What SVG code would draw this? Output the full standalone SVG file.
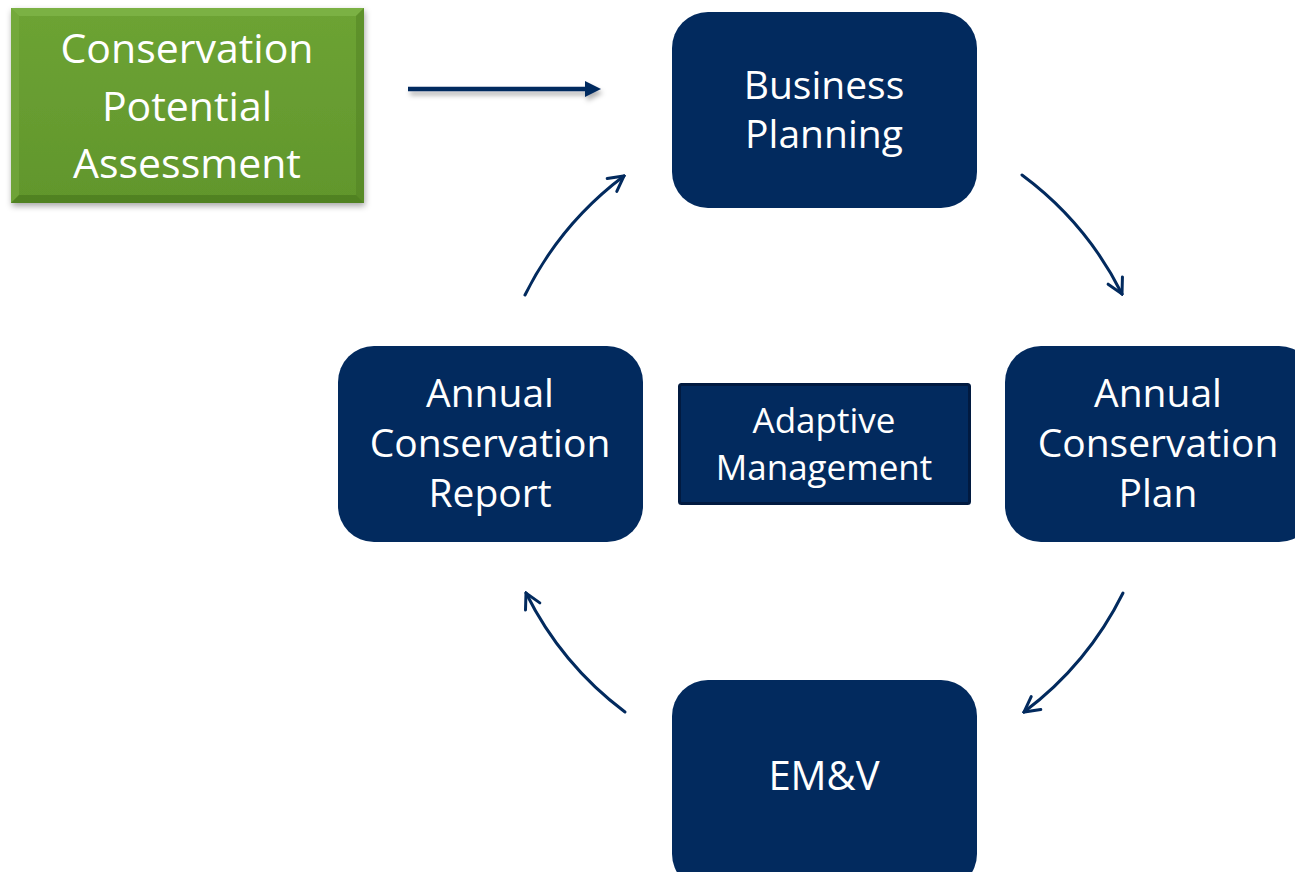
<svg xmlns="http://www.w3.org/2000/svg" width="1295" height="872" viewBox="0 0 1295 872">
<defs>
<style>
.node{fill:#022a5e;}
.t{font-family:"Open Sans","Noto Sans",sans-serif;fill:#ffffff;text-anchor:middle;}
.big{font-size:39px;}
.grn{font-size:41px;}
.mid{font-size:35px;}
.arc{fill:none;stroke:#022a5e;stroke-width:3;stroke-linecap:round;}
</style>
<linearGradient id="gg" x1="0" y1="0" x2="0" y2="1">
<stop offset="0" stop-color="#6da334"/>
<stop offset="1" stop-color="#61962c"/>
</linearGradient>
<filter id="sh" x="-10%" y="-10%" width="125%" height="130%">
<feDropShadow dx="1" dy="3" stdDeviation="3" flood-color="#000" flood-opacity="0.35"/>
</filter>
<filter id="sh2" x="-10%" y="-100%" width="120%" height="300%">
<feDropShadow dx="2" dy="4" stdDeviation="2.5" flood-color="#000" flood-opacity="0.3"/>
</filter>
<marker id="ah" viewBox="0 0 20 20" refX="18" refY="10" markerWidth="20" markerHeight="20" markerUnits="userSpaceOnUse" orient="auto">
<polyline points="3,2 18,10 3,18" fill="none" stroke="#022a5e" stroke-width="3" stroke-linecap="round" stroke-linejoin="miter"/>
</marker>
</defs>

<g id="cpa">
<rect x="11" y="8" width="353" height="195" fill="url(#gg)" filter="url(#sh)"/>
<polygon points="11,8 364,8 356,16 19,16" fill="#86bb4e" opacity="0.6"/>
<polygon points="11,8 19,16 19,195 11,203" fill="#7bb043" opacity="0.5"/>
<polygon points="364,8 364,203 356,195 356,16" fill="#4f7f22" opacity="0.5"/>
<polygon points="11,203 19,195 356,195 364,203" fill="#46741c" opacity="0.6"/>
<text class="t grn" x="187" y="63">Conservation</text>
<text class="t grn" x="187" y="121">Potential</text>
<text class="t grn" x="187" y="178">Assessment</text>
</g>

<g id="business-planning">
<rect class="node" x="672" y="12" width="305" height="196" rx="36"/>
<text class="t big" x="824" y="99">Business</text>
<text class="t big" x="824" y="148">Planning</text>
</g>

<g id="annual-conservation-plan">
<rect class="node" x="1005" y="346" width="310" height="196" rx="36"/>
<text class="t big" x="1158" y="407">Annual</text>
<text class="t big" x="1158" y="457">Conservation</text>
<text class="t big" x="1158" y="507">Plan</text>
</g>

<g id="emv">
<rect class="node" x="672" y="680" width="305" height="210" rx="36"/>
<text class="t big" x="824" y="790" font-size="40" style="font-size:40px">EM&amp;V</text>
</g>

<g id="annual-conservation-report">
<rect class="node" x="338" y="346" width="305" height="196" rx="36"/>
<text class="t big" x="490" y="407">Annual</text>
<text class="t big" x="490" y="457">Conservation</text>
<text class="t big" x="490" y="507">Report</text>
</g>

<g id="adaptive-management">
<rect x="679.5" y="384.5" width="290" height="119" fill="#022a5e" stroke="#011a40" stroke-width="3" rx="2"/>
<text class="t mid" x="824" y="433">Adaptive</text>
<text class="t mid" x="824" y="480">Management</text>
</g>

<g id="connectors">
<g filter="url(#sh2)">
<line x1="408" y1="89" x2="588" y2="89" stroke="#022a5e" stroke-width="4.5"/>
<polygon points="585,81 601,89 585,97" fill="#022a5e"/>
</g>
<path class="arc" d="M1022,175 A334,334 0 0 1 1122,294" marker-end="url(#ah)"/>
<path class="arc" d="M1123,593 A334,334 0 0 1 1024,712" marker-end="url(#ah)"/>
<path class="arc" d="M625,712 A334,334 0 0 1 526,593" marker-end="url(#ah)"/>
<path class="arc" d="M525,295 A334,334 0 0 1 624,176" marker-end="url(#ah)"/>
</g>
</svg>
